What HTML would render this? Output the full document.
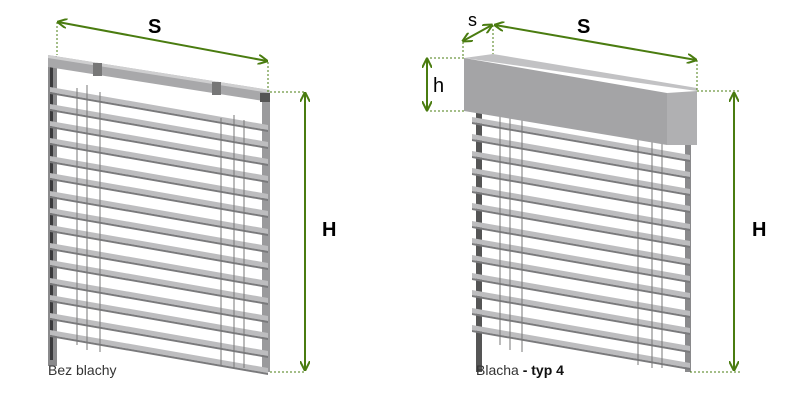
<!DOCTYPE html>
<html><head><meta charset="utf-8"><style>
html,body{margin:0;padding:0;background:#fff;width:800px;height:400px;overflow:hidden}
text{font-family:"Liberation Sans",sans-serif}
</style></head><body>
<svg width="800" height="400" viewBox="0 0 800 400" xmlns="http://www.w3.org/2000/svg">
<defs>
<marker id="a" viewBox="0 0 10 10" refX="9" refY="5" markerWidth="5" markerHeight="5" orient="auto-start-reverse"><path d="M0,0 L10,5 L0,10" fill="none" stroke="#4a7c10" stroke-width="2"/></marker>
<g id="sl">
<polygon points="50,-1 268,37 268,42 50,4" fill="#bdbdbf"/>
<polygon points="50,4 268,42 268,44 50,6" fill="#7a7a7c"/>
</g>
</defs>
<!-- LEFT BLIND -->
<rect x="48" y="56" width="9" height="310" fill="#8a8a8c"/>
<rect x="50" y="60" width="3" height="300" fill="#3a3a3c"/>
<rect x="262" y="92" width="8" height="280" fill="#9a9a9c"/>
<use href="#sl" y="88"/><use href="#sl" y="105"/><use href="#sl" y="122"/><use href="#sl" y="139"/>
<use href="#sl" y="157"/><use href="#sl" y="174"/><use href="#sl" y="192"/><use href="#sl" y="209"/>
<use href="#sl" y="226"/><use href="#sl" y="244"/><use href="#sl" y="261"/><use href="#sl" y="279"/>
<use href="#sl" y="296"/><use href="#sl" y="314"/><use href="#sl" y="331"/>
<g stroke="#777" stroke-width="1"><line x1="77" y1="88" x2="77" y2="345"/><line x1="87" y1="85" x2="87" y2="350"/><line x1="100" y1="92" x2="100" y2="352"/><line x1="221" y1="118" x2="221" y2="365"/><line x1="234" y1="115" x2="234" y2="368"/><line x1="244" y1="120" x2="244" y2="368"/></g>
<polygon points="48,55 270,90 270,102 48,67" fill="#a8a8aa"/>
<polygon points="48,55 270,90 270,93 48,58" fill="#cfcfd0"/>
<rect x="93" y="63" width="9" height="13" fill="#777"/><rect x="212" y="82" width="9" height="13" fill="#777"/>
<rect x="260" y="93" width="10" height="9" fill="#555"/>
<!-- RIGHT BLIND -->
<rect x="476" y="110" width="6" height="262" fill="#555"/>
<rect x="685" y="140" width="6" height="232" fill="#8a8a8c"/>
<g transform="translate(422,30)">
<use href="#sl" y="88"/><use href="#sl" y="105"/><use href="#sl" y="122"/><use href="#sl" y="139"/>
<use href="#sl" y="157"/><use href="#sl" y="174"/><use href="#sl" y="192"/><use href="#sl" y="209"/>
<use href="#sl" y="226"/><use href="#sl" y="244"/><use href="#sl" y="261"/><use href="#sl" y="279"/>
<use href="#sl" y="296"/>
</g>
<g stroke="#777" stroke-width="1"><line x1="500" y1="112" x2="500" y2="345"/><line x1="510" y1="112" x2="510" y2="350"/><line x1="522" y1="112" x2="522" y2="352"/><line x1="638" y1="130" x2="638" y2="365"/><line x1="652" y1="130" x2="652" y2="368"/><line x1="662" y1="130" x2="662" y2="368"/></g>
<polygon points="464,58 493,54 697,88 697,91" fill="#c2c2c4"/>
<polygon points="464,58 667,93 667,145 464,111" fill="#a4a4a6"/>
<polygon points="667,93 697,91 697,145 667,145" fill="#b0b0b2"/>
<!-- DIMENSIONS -->
<g stroke="#4a7c10" stroke-width="1" stroke-dasharray="2,2" fill="none">
<line x1="57" y1="22" x2="57" y2="55"/><line x1="268" y1="62" x2="268" y2="92"/>
<line x1="270" y1="92" x2="305" y2="92"/><line x1="270" y1="372" x2="305" y2="372"/>
<line x1="463" y1="42" x2="463" y2="58"/><line x1="493" y1="25" x2="493" y2="54"/>
<line x1="697" y1="60" x2="697" y2="90"/><line x1="426" y1="58" x2="464" y2="58"/><line x1="426" y1="111" x2="464" y2="111"/>
<line x1="697" y1="91" x2="740" y2="91"/><line x1="690" y1="372" x2="740" y2="372"/>
</g>
<g stroke="#4a7c10" stroke-width="2" fill="none" marker-start="url(#a)" marker-end="url(#a)">
<line x1="58" y1="22" x2="267" y2="61"/>
<line x1="305" y1="93" x2="305" y2="370"/>
<line x1="463" y1="41" x2="492" y2="25"/>
<line x1="495" y1="25" x2="696" y2="60"/>
<line x1="427" y1="59" x2="427" y2="110"/>
<line x1="734" y1="93" x2="734" y2="370"/>
</g>
<text x="148" y="33" font-size="20" font-weight="bold">S</text>
<text x="577" y="33" font-size="20" font-weight="bold">S</text>
<text x="468" y="26" font-size="18">s</text>
<text x="433" y="92" font-size="20">h</text>
<text x="322" y="236" font-size="20" font-weight="bold">H</text>
<text x="752" y="236" font-size="20" font-weight="bold">H</text>
<text x="48" y="375" font-size="14" fill="#333">Bez blachy</text>
<text x="476" y="375" font-size="14" fill="#333">Blacha <tspan font-weight="bold" fill="#111"> - typ 4</tspan></text>
</svg>
</body></html>
